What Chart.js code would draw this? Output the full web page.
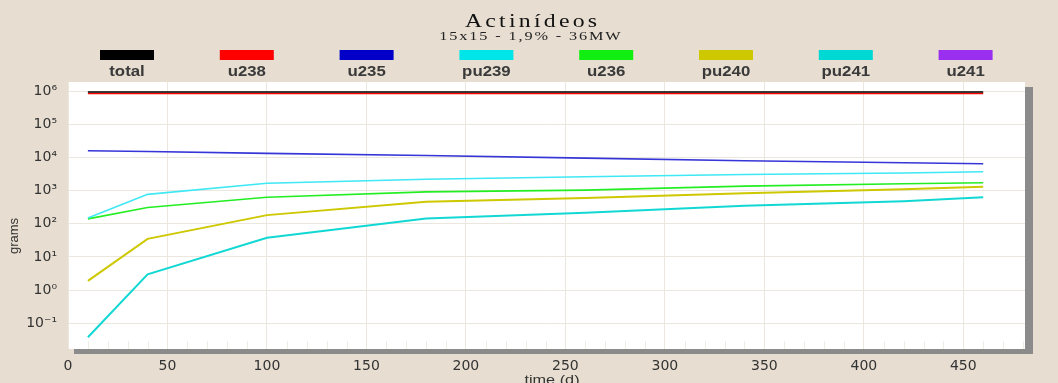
<!DOCTYPE html>
<html>
<head>
<meta charset="utf-8">
<script src="https://cdn.jsdelivr.net/npm/chart.js@4.4.1/dist/chart.umd.min.js"></script>
<style>
  html, body { margin: 0; padding: 0; background: #e7ded1; }
  canvas { display: block; }
</style>
</head>
<body>
<canvas id="grafico" width="1058" height="383"></canvas>
<script>
// tiempos de muestreo (dias)
const tiempos = [10, 40, 100, 180, 260, 340, 420, 460];

// masas en gramos
const total = [9.3e5, 9.3e5, 9.3e5, 9.3e5, 9.3e5, 9.3e5, 9.3e5, 9.3e5];
const u238  = [8.4e5, 8.4e5, 8.4e5, 8.4e5, 8.4e5, 8.4e5, 8.4e5, 8.4e5];
const u235  = [1.58e4, 1.5e4, 1.32e4, 1.14e4, 9.5e3, 7.9e3, 6.9e3, 6.4e3];
const pu239 = [150, 770, 1660, 2200, 2600, 3050, 3400, 3700];
const u236  = [140, 310, 630, 915, 1030, 1360, 1600, 1720];
const pu240 = [1.9, 35, 182, 460, 600, 830, 1100, 1300];
const pu241 = [0.038, 3.0, 38, 145, 213, 350, 480, 630];
const u241  = []; // no aparece dentro del rango del eje

const nombres = ['total', 'u238', 'u235', 'pu239', 'u236', 'pu240', 'pu241', 'u241'];
const series  = [total, u238, u235, pu239, u236, pu240, pu241, u241];

// marcas de los ejes
const xTicks  = [0, 50, 100, 150, 200, 250, 300, 350, 400, 450];
const yTicks  = [0.1, 1, 10, 100, 1e3, 1e4, 1e5, 1e6];
const yLabels = ['10⁻¹', '10⁰', '10¹', '10²', '10³', '10⁴', '10⁵', '10⁶'];

const FONDO = '#e7ded1';
// color de la linea y de la caja de leyenda (la linea fina se ve algo mas clara)
const colores  = ['#000000', '#ff0000', '#3535d8', '#3ee8f4', '#22ee22', '#cdc800', '#12d8d4', '#9b2ff0'];
const cajas    = ['#000000', '#ff0000', '#0000c8', '#00e5e8', '#11ee11', '#cdc800', '#00d8d4', '#9b2ff0'];
const grosores = [1.5, 1.5, 1.6, 1.6, 1.6, 2, 2, 2];

function texto(ctx, s, x, y, font, color, sx, esp) {
  ctx.save();
  ctx.translate(x, y);
  ctx.scale(sx, 1);
  ctx.font = font;
  ctx.fillStyle = color;
  ctx.textAlign = 'center';
  ctx.textBaseline = 'alphabetic';
  if ('letterSpacing' in ctx) ctx.letterSpacing = esp + 'px';
  ctx.fillText(s, esp / 2, 0);
  ctx.restore();
}

// fondo, sombra del area de trazado, titulos y leyenda
const marco = {
  id: 'marco',
  beforeDraw(chart) {
    const { ctx, chartArea: a } = chart;
    ctx.save();
    ctx.fillStyle = FONDO;
    ctx.fillRect(0, 0, chart.width, chart.height);
    ctx.fillStyle = '#8b8b8b';
    ctx.fillRect(a.left + 6, a.top + 5, a.right - a.left + 2, a.bottom - a.top);
    ctx.fillStyle = '#ffffff';
    ctx.fillRect(a.left, a.top, a.right - a.left, a.bottom - a.top);
    ctx.restore();
  },
  beforeDatasetsDraw(chart) {
    const { ctx, chartArea: a } = chart;
    const xs = chart.scales.x;
    ctx.save();
    ctx.strokeStyle = '#efebe5';
    ctx.lineWidth = 1;
    for (let v = 10; v < xs.max; v += 10) {
      if (v % 50 === 0) continue;
      const px = Math.round(xs.getPixelForValue(v)) + 0.5;
      ctx.beginPath();
      ctx.moveTo(px, a.bottom - 8);
      ctx.lineTo(px, a.bottom);
      ctx.stroke();
    }
    ctx.restore();
  },
  afterDraw(chart) {
    const ctx = chart.ctx;
    texto(ctx, 'Actinídeos', 531, 27, '19px "Liberation Serif"', '#111', 1.25, 2.6);
    texto(ctx, '15x15 - 1,9% - 36MW', 530, 40, '13px "Liberation Serif"', '#222', 1.25, 1.5);

    chart.data.datasets.forEach((ds, i) => {
      const cx = 127 + 119.8 * i;
      ctx.fillStyle = cajas[i];
      ctx.fillRect(cx - 27, 50, 54, 10);
      texto(ctx, ds.label, cx, 76, 'bold 14px "Liberation Sans"', '#3a3a3a', 1.2, 0);
    });

    // titulos de los ejes
    ctx.save();
    ctx.translate(14, 236);
    ctx.rotate(-Math.PI / 2);
    ctx.font = '13px "Liberation Sans"';
    ctx.fillStyle = '#333';
    ctx.textAlign = 'center';
    ctx.textBaseline = 'middle';
    ctx.fillText('grams', 0, 0);
    ctx.restore();
    texto(ctx, 'time (d)', 552, 384, '13px "Liberation Sans"', '#333', 1.25, 0);
  }
};

const fuenteTicks = { family: 'DejaVu Sans', size: 14 };

new Chart(document.getElementById('grafico'), {
  type: 'line',
  data: {
    datasets: series.map((vals, i) => ({
      label: nombres[i],
      data: vals.map((v, k) => ({ x: tiempos[k], y: v })),
      borderColor: colores[i],
      backgroundColor: colores[i],
      borderWidth: grosores[i],
      pointRadius: 0,
      tension: 0,
      fill: false
    }))
  },
  options: {
    responsive: false,
    animation: false,
    layout: { padding: { top: 82, right: 33, left: 0, bottom: 0 } },
    plugins: {
      legend: { display: false },
      title: { display: false },
      tooltip: { enabled: false }
    },
    scales: {
      x: {
        type: 'linear',
        min: 0,
        max: 481,
        afterBuildTicks: s => { s.ticks = xTicks.map(v => ({ value: v })); },
        afterFit: s => { s.height = 34; },
        grid: { color: '#ebe6de', drawTicks: false },
        border: { display: false },
        ticks: { padding: 9, color: '#333', font: fuenteTicks, maxRotation: 0, autoSkip: false }
      },
      y: {
        type: 'logarithmic',
        min: 0.0168,
        max: 1.87e6,
        afterBuildTicks: s => { s.ticks = yTicks.map(v => ({ value: v })); },
        afterFit: s => { s.width = 68; },
        grid: { color: '#ebe6de', drawTicks: false },
        border: { display: false },
        ticks: {
          padding: 11,
          color: '#333',
          font: fuenteTicks,
          autoSkip: false,
          callback: v => { const k = yTicks.indexOf(v); return k >= 0 ? yLabels[k] : ''; }
        }
      }
    }
  },
  plugins: [marco]
});
</script>
</body>
</html>
